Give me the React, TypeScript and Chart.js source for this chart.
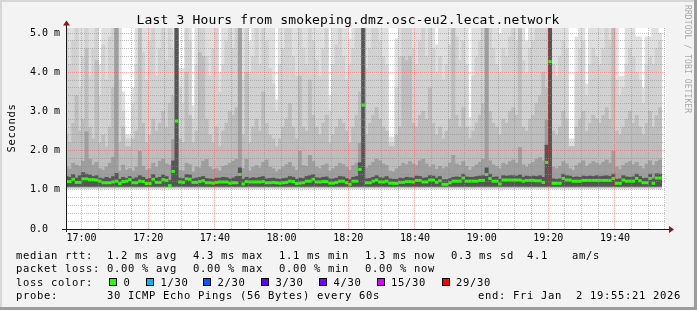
import React, { useEffect, useRef } from 'react';
import { Chart, registerables } from 'chart.js';

Chart.register(...registerables);

// ---------------- data ----------------
// one slot per minute, first slot is 16:55-16:56, last slot 19:53-19:54 (x = minutes from 17:00)
const FIRST_SLOT_CENTER_MIN = -4.5;
const X_START_MIN = -4.65; // 16:55:21
const X_END_MIN = 175.3; // 19:55:21
const Y_TOP_MS = 5.128;

const xTickLabels = ['17:00', '17:20', '17:40', '18:00', '18:20', '18:40', '19:00', '19:20', '19:40'];
const yTickLabels = ['0.0', '1.0 m', '2.0 m', '3.0 m', '4.0 m', '5.0 m'];

// median rtt per slot (ms)
const medianMs = [
  1.21, 1.21, 1.27, 1.19, 1.19, 1.28, 1.28, 1.26, 1.26, 1.25,
  1.22, 1.18, 1.18, 1.18, 1.20, 1.22, 1.16, 1.21, 1.22, 1.26,
  1.18, 1.18, 1.22, 1.21, 1.16, 1.16, 1.27, 1.19, 1.19, 1.26,
  1.24, 1.11, 1.47, 2.75, 1.20, 1.19, 1.28, 1.27, 1.19, 1.19,
  1.21, 1.23, 1.18, 1.18, 1.17, 1.19, 1.20, 1.20, 1.20, 1.17,
  1.18, 1.18, 1.39, 1.15, 1.21, 1.20, 1.20, 1.20, 1.20, 1.21,
  1.18, 1.18, 1.19, 1.18, 1.17, 1.18, 1.19, 1.22, 1.21, 1.16,
  1.17, 1.18, 1.22, 1.22, 1.27, 1.20, 1.20, 1.21, 1.21, 1.17,
  1.17, 1.19, 1.22, 1.22, 1.18, 1.14, 1.22, 1.22, 1.52, 3.16,
  1.18, 1.18, 1.22, 1.25, 1.20, 1.20, 1.22, 1.17, 1.165, 1.165,
  1.19, 1.19, 1.21, 1.21, 1.20, 1.24, 1.24, 1.20, 1.20, 1.25,
  1.25, 1.19, 1.23, 1.14, 1.14, 1.18, 1.22, 1.22, 1.22, 1.30,
  1.22, 1.22, 1.22, 1.22, 1.24, 1.24, 1.39, 1.29, 1.22, 1.22,
  1.15, 1.25, 1.25, 1.25, 1.25, 1.25, 1.25, 1.22, 1.24, 1.24,
  1.24, 1.23, 1.23, 1.19, 1.70, 4.27, 1.165, 1.165, 1.165, 1.29,
  1.25, 1.25, 1.22, 1.22, 1.22, 1.24, 1.24, 1.24, 1.24, 1.24,
  1.24, 1.24, 1.24, 1.24, 1.29, 1.165, 1.165, 1.25, 1.22, 1.22,
  1.22, 1.29, 1.23, 1.18, 1.18, 1.29, 1.165, 1.30, 1.30,
];

// smoke: upper edges of the darkest -> lightest smoke layers (ms)
const smokeDarkTopMs = [
  1.34, 1.32, 1.39, 1.30, 1.36, 1.44, 1.40, 1.38, 1.34, 1.36,
  1.30, 1.28, 1.32, 1.29, 1.34, 1.42, 1.27, 1.32, 1.29, 1.34,
  1.28, 1.31, 1.36, 1.32, 1.27, 1.29, 1.39, 1.30, 1.32, 1.38,
  1.34, 1.24, 1.74, 5.20, 1.30, 1.29, 1.39, 1.38, 1.28, 1.30,
  1.32, 1.34, 1.29, 1.28, 1.27, 1.30, 1.30, 1.32, 1.31, 1.28,
  1.30, 1.34, 1.56, 1.27, 1.32, 1.29, 1.31, 1.30, 1.32, 1.34,
  1.28, 1.29, 1.30, 1.28, 1.27, 1.29, 1.30, 1.34, 1.32, 1.27,
  1.30, 1.29, 1.34, 1.36, 1.39, 1.31, 1.30, 1.32, 1.33, 1.28,
  1.28, 1.30, 1.34, 1.33, 1.29, 1.26, 1.32, 1.34, 1.69, 5.20,
  1.28, 1.29, 1.32, 1.36, 1.31, 1.30, 1.34, 1.28, 1.27, 1.27,
  1.30, 1.29, 1.32, 1.31, 1.30, 1.35, 1.34, 1.30, 1.31, 1.36,
  1.35, 1.30, 1.34, 1.26, 1.26, 1.29, 1.32, 1.33, 1.32, 1.40,
  1.33, 1.32, 1.32, 1.34, 1.35, 1.36, 1.56, 1.40, 1.32, 1.33,
  1.27, 1.36, 1.35, 1.36, 1.36, 1.35, 1.38, 1.32, 1.35, 1.34,
  1.35, 1.34, 1.36, 1.32, 2.14, 5.20, 1.28, 1.27, 1.28, 1.40,
  1.36, 1.35, 1.32, 1.33, 1.32, 1.35, 1.34, 1.35, 1.34, 1.36,
  1.34, 1.35, 1.36, 1.34, 1.40, 1.27, 1.28, 1.36, 1.33, 1.32,
  1.33, 1.40, 1.34, 1.29, 1.30, 1.40, 1.28, 1.41, 1.40,
];

const smokeMidTopMs = [
  1.58, 1.53, 1.68, 1.63, 1.60, 1.73, 2.48, 1.78, 1.63, 1.70,
  1.54, 1.50, 1.58, 1.68, 1.83, 5.20, 1.48, 1.63, 1.50, 1.54,
  1.48, 1.58, 1.98, 1.60, 1.50, 1.54, 1.68, 1.58, 1.73, 1.78,
  1.66, 1.63, 2.28, 5.20, 1.50, 1.48, 1.68, 1.64, 1.46, 1.58,
  1.56, 1.73, 1.78, 1.58, 1.52, 1.54, 1.48, 1.60, 1.62, 1.68,
  1.73, 1.78, 5.20, 1.54, 1.78, 1.48, 1.58, 1.62, 1.56, 1.70,
  1.76, 1.58, 1.54, 1.46, 1.52, 1.58, 1.64, 1.70, 1.58, 1.50,
  1.98, 1.62, 1.60, 1.88, 1.72, 1.58, 1.54, 1.62, 1.66, 1.48,
  1.54, 1.60, 1.68, 1.64, 1.58, 1.50, 1.62, 1.68, 2.18, 5.20,
  1.56, 1.62, 1.70, 1.78, 1.74, 1.66, 1.62, 1.48, 1.46, 1.54,
  1.60, 1.68, 1.64, 1.72, 1.66, 1.62, 1.74, 1.78, 1.66, 1.58,
  1.64, 1.52, 1.60, 1.54, 1.58, 1.68, 1.88, 1.66, 1.62, 1.72,
  1.60, 1.50, 1.58, 1.64, 1.70, 1.78, 5.20, 1.74, 1.64, 1.60,
  1.54, 1.68, 1.64, 1.72, 1.76, 1.68, 2.08, 1.64, 1.58, 1.66,
  1.70, 1.78, 1.82, 1.74, 2.78, 5.20, 1.58, 1.54, 1.60, 1.72,
  1.66, 1.54, 1.50, 1.62, 1.68, 1.74, 1.60, 1.66, 1.72, 1.68,
  1.64, 1.70, 1.76, 1.68, 1.98, 1.58, 1.52, 1.62, 1.68, 1.72,
  1.64, 1.70, 1.60, 1.54, 1.66, 1.74, 1.62, 1.72, 1.76,
];

const smokeLightTopMs = [
  2.40, 2.20, 2.70, 3.40, 2.50, 2.80, 4.60, 2.60, 2.30, 4.30,
  2.20, 2.40, 2.10, 2.60, 3.60, 5.20, 2.20, 2.60, 2.10, 2.10,
  2.30, 2.50, 5.20, 2.70, 2.20, 2.40, 2.80, 2.50, 2.70, 3.00,
  2.60, 3.20, 3.40, 5.20, 2.30, 2.20, 4.00, 2.90, 2.20, 2.50,
  4.50, 4.40, 2.80, 2.40, 2.20, 2.60, 2.10, 2.50, 2.70, 3.00,
  2.90, 3.10, 5.20, 2.40, 4.00, 2.20, 2.60, 2.80, 2.50, 3.50,
  2.70, 2.40, 2.30, 2.10, 2.30, 2.60, 2.80, 3.20, 2.60, 2.30,
  3.90, 2.60, 2.50, 3.80, 2.90, 2.60, 2.40, 2.70, 2.90, 2.20,
  2.40, 2.60, 2.80, 2.70, 2.50, 2.20, 2.60, 2.90, 3.50, 5.20,
  2.40, 2.70, 2.90, 3.10, 2.80, 2.60, 2.50, 2.10, 2.10, 2.40,
  2.60, 4.40, 4.30, 4.40, 2.70, 2.60, 2.90, 3.00, 2.80, 3.60,
  2.70, 2.40, 2.60, 2.30, 2.50, 2.80, 5.20, 2.90, 2.60, 3.10,
  2.60, 2.30, 2.50, 2.70, 2.90, 3.20, 5.20, 3.00, 2.70, 2.60,
  2.40, 2.80, 2.70, 3.00, 3.10, 2.90, 5.20, 2.60, 2.50, 2.80,
  2.90, 3.20, 3.40, 4.00, 3.60, 5.20, 2.50, 2.40, 2.60, 3.00,
  2.80, 2.10, 2.10, 2.60, 2.80, 3.00, 2.50, 2.70, 2.90, 2.80,
  2.70, 2.90, 3.10, 2.80, 5.20, 2.50, 2.40, 2.60, 2.80, 3.00,
  2.70, 2.90, 2.60, 2.40, 2.70, 3.00, 2.60, 2.90, 3.10,
];

const smokePaleTopMs = [
  5.20, 4.20, 4.80, 5.20, 3.60, 4.40, 5.20, 3.90, 4.60, 5.20,
  3.40, 4.70, 3.80, 4.90, 5.20, 5.20, 3.80, 3.00, 2.30, 2.30,
  3.20, 4.20, 5.20, 4.50, 3.80, 4.80, 5.20, 3.90, 4.60, 5.20,
  4.30, 5.20, 4.60, 5.20, 3.60, 3.20, 5.20, 4.80, 2.80, 4.20,
  5.20, 5.20, 4.40, 3.90, 4.60, 5.20, 3.50, 4.20, 4.80, 5.20,
  4.60, 5.20, 5.20, 3.80, 5.20, 4.00, 4.40, 5.20, 4.20, 5.20,
  4.80, 4.10, 3.70, 3.00, 4.20, 4.60, 5.20, 5.20, 4.40, 3.90,
  5.20, 4.60, 4.20, 5.20, 4.80, 4.30, 3.90, 4.60, 5.20, 3.00,
  4.20, 4.70, 5.20, 4.40, 3.80, 4.20, 4.60, 5.20, 5.20, 5.20,
  4.10, 4.60, 5.20, 5.20, 4.80, 4.40, 4.20, 2.20, 2.20, 3.60,
  4.40, 5.20, 5.20, 5.20, 4.60, 4.20, 4.80, 5.20, 4.40, 5.20,
  4.60, 4.00, 4.40, 3.80, 4.20, 4.70, 5.20, 4.90, 4.30, 4.80,
  4.20, 2.60, 3.90, 4.40, 4.80, 5.20, 5.20, 5.20, 4.60, 4.20,
  4.00, 4.60, 4.40, 4.90, 5.20, 4.80, 5.20, 4.30, 4.00, 4.60,
  4.80, 5.20, 5.20, 5.20, 5.20, 5.20, 4.20, 3.90, 4.40, 4.80,
  4.60, 2.10, 2.10, 4.00, 4.60, 4.80, 3.40, 4.20, 4.60, 4.40,
  4.20, 4.60, 5.20, 4.80, 5.20, 3.80, 3.40, 3.60, 4.20, 4.60,
  4.40, 4.00, 3.80, 3.20, 4.20, 4.40, 4.20, 4.60, 4.80,
];

// slowest ping per slot (ms, values above the plot are clipped)
const maxMs = [
  5.20, 5.20, 5.20, 5.20, 5.20, 5.20, 5.20, 5.20, 5.20, 5.20,
  4.20, 5.20, 5.20, 5.20, 5.20, 5.20, 5.20, 3.50, 2.40, 2.40,
  3.60, 5.20, 5.20, 5.20, 5.20, 5.20, 5.20, 5.20, 5.20, 5.20,
  5.20, 5.20, 5.20, 5.20, 4.10, 4.10, 5.20, 5.20, 3.15, 5.20,
  5.20, 5.20, 5.20, 5.20, 5.20, 5.20, 4.00, 5.20, 5.20, 5.20,
  5.20, 5.20, 5.20, 5.20, 5.20, 4.80, 5.20, 5.20, 5.20, 5.20,
  5.20, 5.20, 5.20, 3.30, 5.20, 5.20, 5.20, 5.20, 5.20, 5.20,
  5.20, 5.20, 5.20, 5.20, 5.20, 5.20, 5.20, 5.20, 5.20, 3.40,
  5.20, 5.20, 5.20, 5.20, 5.20, 4.85, 5.20, 5.20, 5.20, 5.20,
  5.20, 5.20, 5.20, 5.20, 5.20, 5.20, 5.20, 2.35, 2.35, 4.85,
  5.20, 5.20, 5.20, 5.20, 5.20, 5.20, 5.20, 5.20, 5.20, 5.20,
  5.20, 4.70, 5.20, 5.20, 5.20, 5.20, 5.20, 5.20, 5.20, 5.20,
  5.20, 2.85, 5.20, 5.20, 5.20, 5.20, 5.20, 5.20, 5.20, 5.20,
  5.00, 5.20, 5.20, 5.20, 5.20, 5.20, 5.20, 5.20, 4.80, 5.20,
  5.20, 5.20, 5.20, 5.20, 5.20, 5.20, 5.20, 5.20, 5.20, 5.20,
  5.20, 2.30, 2.30, 4.90, 5.20, 5.20, 3.70, 5.20, 5.20, 5.20,
  5.20, 5.20, 5.20, 5.20, 5.20, 5.20, 3.90, 3.90, 5.20, 5.20,
  5.20, 4.90, 4.90, 3.60, 4.90, 4.90, 5.20, 5.20, 5.00,
];

// lower edges of the smoke layers (ms): palest .. darkest
const smokeBottomMs = [1.03, 1.045, 1.06, 1.075, 1.09];
const smokeColors = ['#dfdfdf', '#d1d1d1', '#bdbdbd', '#9e9e9e', '#555555'];

// legend values
const rttValues = ['1.2', '4.3', '1.1', '1.3', '0.3'];
const rttKinds = ['avg', 'max', 'min', 'now', 'sd'];
const amPerSec = '4.1';
const lossValues = ['0.00', '0.00', '0.00', '0.00'];
const lossKinds = ['avg', 'max', 'min', 'now'];
const lossLabels = ['0', '1/30', '2/30', '3/30', '4/30', '15/30', '29/30'];
const lossColors = ['#26ff00', '#00b8ff', '#0059ff', '#5e00ff', '#7e00ff', '#dd00ff', '#ff0000'];
const medianColor = lossColors[0];
const titleText = 'Last 3 Hours from smokeping.dmz.osc-eu2.lecat.network';
const probeText = '30 ICMP Echo Pings (56 Bytes) every 60s';
const endText = 'end: Fri Jan  2 19:55:21 2026';

// ---------------- rendering ----------------
const MONO = '"DejaVu Sans Mono", monospace';
const GRID_MINOR = 'rgba(140,140,140,0.55)';
const GRID_MAJOR = 'rgba(255,60,60,0.42)';

const slotX = (i: number) => FIRST_SLOT_CENTER_MIN + i;

const layerTops = [maxMs, smokePaleTopMs, smokeLightTopMs, smokeMidTopMs, smokeDarkTopMs];

const rrdDecor = {
  id: 'rrdDecor',
  beforeDraw(chart: any) {
    const { ctx, chartArea: a } = chart;
    ctx.save();
    ctx.fillStyle = '#f3f3f3';
    ctx.fillRect(0, 0, chart.width, chart.height);
    ctx.fillStyle = '#ffffff';
    ctx.fillRect(a.left, a.top, a.right - a.left, a.bottom - a.top);
    ctx.restore();
  },
  afterDraw(chart: any) {
    const { ctx, chartArea: a } = chart;
    const W = chart.width;
    const H = chart.height;
    ctx.save();
    // 3d frame
    ctx.fillStyle = '#d6d6d6';
    ctx.fillRect(0, 0, W, 2);
    ctx.fillRect(0, 0, 2, H);
    ctx.fillStyle = '#9c9c9c';
    ctx.fillRect(0, H - 3, W, 3);
    ctx.fillRect(W - 3, 0, 3, H);

    // axes
    const bottom = Math.round(a.bottom);
    const left = Math.round(a.left);
    ctx.fillStyle = '#1a1a1a';
    ctx.fillRect(left - 4, bottom, a.right - a.left + 7, 1);
    ctx.fillRect(left, a.top - 4, 1, a.bottom - a.top + 7);
    ctx.fillStyle = '#8b1414';
    ctx.beginPath();
    ctx.moveTo(left - 3, a.top - 2.5);
    ctx.lineTo(left + 4, a.top - 2.5);
    ctx.lineTo(left + 0.5, a.top - 7.5);
    ctx.closePath();
    ctx.fill();
    ctx.beginPath();
    ctx.moveTo(a.right + 3, bottom - 3);
    ctx.lineTo(a.right + 3, bottom + 4);
    ctx.lineTo(a.right + 8, bottom + 0.5);
    ctx.closePath();
    ctx.fill();

    // title
    ctx.fillStyle = '#000';
    ctx.textAlign = 'center';
    ctx.textBaseline = 'alphabetic';
    ctx.font = `13px ${MONO}`;
    (ctx as any).letterSpacing = '0.15px';
    ctx.fillText(titleText, 348, 24);

    // legend
    ctx.textAlign = 'left';
    ctx.font = `10.5px ${MONO}`;
    (ctx as any).letterSpacing = '0.68px';
    const colX = [107, 193, 279, 365, 451];
    const base = [258.5, 272, 285.5, 299];
    ctx.fillText('median rtt:', 16, base[0]);
    rttValues.forEach((v, k) => ctx.fillText(`${v} ms ${rttKinds[k]}`, colX[k], base[0]));
    ctx.fillText(amPerSec, 527, base[0]);
    ctx.fillText('am/s', 572, base[0]);
    ctx.fillText('packet loss:', 16, base[1]);
    lossValues.forEach((v, k) => ctx.fillText(`${v} % ${lossKinds[k]}`, colX[k], base[1]));
    ctx.fillText('loss color:', 16, base[2]);
    const boxX = [109, 146, 203, 261, 319, 376.5, 441.5];
    lossLabels.forEach((lab, k) => {
      const bx = Math.round(boxX[k]);
      ctx.fillStyle = lossColors[k];
      ctx.fillRect(bx, 278, 8, 8);
      ctx.strokeStyle = '#000';
      ctx.lineWidth = 1;
      ctx.strokeRect(bx + 0.5, 278.5, 7, 7);
      ctx.fillStyle = '#000';
      ctx.fillText(lab, boxX[k] + 14.6, base[2]);
    });
    ctx.fillText('probe:', 16, base[3]);
    ctx.fillText(probeText, 107, base[3]);
    ctx.fillText(endText, 478, base[3]);

    // vertical axis title
    ctx.save();
    ctx.translate(15, 128);
    ctx.rotate(-Math.PI / 2);
    ctx.textAlign = 'center';
    ctx.fillText('Seconds', 0, 0);
    ctx.restore();

    // watermark
    ctx.save();
    ctx.translate(684.5, 5);
    ctx.rotate(Math.PI / 2);
    ctx.textAlign = 'left';
    ctx.font = `8px ${MONO}`;
    (ctx as any).letterSpacing = '0.1px';
    ctx.fillStyle = '#a8a8a8';
    ctx.fillText('RRDTOOL / TOBI OETIKER', 0, 0);
    ctx.restore();

    ctx.restore();
  },
};

function buildConfig(): any {
  const smokeSets = layerTops.map((tops, k) => ({
    type: 'bar',
    label: `smoke${k}`,
    data: tops.map((top, i) => ({ x: slotX(i), y: [smokeBottomMs[k], top] })),
    backgroundColor: smokeColors[k],
    borderWidth: 0,
    barPercentage: 1,
    categoryPercentage: 1,
    stack: 'smoke',
    order: 5 - k,
  }));
  const medianSet = {
    type: 'line',
    label: 'median',
    data: medianMs.map((v, i) => ({ x: slotX(i), y: v })),
    showLine: false,
    pointStyle: 'line',
    pointRadius: 1.75,
    pointHoverRadius: 1.75,
    pointBorderWidth: 3,
    pointBorderColor: medianColor,
    pointBackgroundColor: medianColor,
    order: 0,
  };
  return {
    type: 'bar',
    data: { datasets: [medianSet, ...smokeSets] },
    plugins: [rrdDecor],
    options: {
      responsive: false,
      animation: false,
      devicePixelRatio: 1,
      events: [],
      layout: { padding: { left: 30, right: 31, top: 28, bottom: 0 } },
      plugins: { legend: { display: false }, tooltip: { enabled: false }, title: { display: false } },
      scales: {
        x: {
          type: 'linear',
          bounds: 'data',
          offset: false,
          min: X_START_MIN,
          max: X_END_MIN,
          afterFit: (s: any) => {
            s.height = 81;
            s.paddingLeft = 0;
            s.paddingRight = 0;
          },
          afterBuildTicks: (s: any) => {
            const t = [];
            for (let m = 0; m <= 175; m += 5) t.push({ value: m });
            s.ticks = t;
          },
          border: { display: false, dash: [1, 1] },
          grid: {
            z: 1,
            offset: false,
            drawTicks: false,
            lineWidth: 1,
            color: (c: any) => (c.tick && c.tick.value % 20 === 0 ? GRID_MAJOR : GRID_MINOR),
          },
          ticks: {
            autoSkip: false,
            maxRotation: 0,
            minRotation: 0,
            padding: 3,
            color: '#000',
            font: { family: 'DejaVu Sans Mono', size: 10 },
            callback: (v: number) => (v % 20 === 0 ? xTickLabels[v / 20] : ''),
          },
        },
        y: {
          type: 'linear',
          bounds: 'data',
          min: 0,
          max: Y_TOP_MS,
          stacked: false,
          afterFit: (s: any) => {
            s.width = 36;
            s.paddingTop = 0;
            s.paddingBottom = 0;
          },
          afterBuildTicks: (s: any) => {
            const t = [];
            for (let k = 0; k <= 25; k++) t.push({ value: Math.round(k * 2) / 10 });
            s.ticks = t;
          },
          border: { display: false, dash: [1, 1] },
          grid: {
            z: 1,
            drawTicks: false,
            lineWidth: 1,
            color: (c: any) => {
              const v = c.tick ? c.tick.value : 0.1;
              return Math.abs(v - Math.round(v)) < 1e-6 ? GRID_MAJOR : GRID_MINOR;
            },
          },
          ticks: {
            autoSkip: false,
            crossAlign: 'far',
            padding: 0,
            color: '#000',
            font: { family: 'DejaVu Sans Mono', size: 10 },
            callback: (v: number) => (Math.abs(v - Math.round(v)) < 1e-6 ? yTickLabels[Math.round(v)] : ''),
          },
        },
      },
    },
  };
}

export default function App() {
  const ref = useRef<HTMLCanvasElement>(null);
  useEffect(() => {
    document.body.style.margin = '0';
    document.body.style.overflow = 'hidden';
    const chart = new Chart(ref.current as HTMLCanvasElement, buildConfig());
    return () => chart.destroy();
  }, []);
  return <canvas ref={ref} width={697} height={310} style={{ display: 'block' }} />;
}
